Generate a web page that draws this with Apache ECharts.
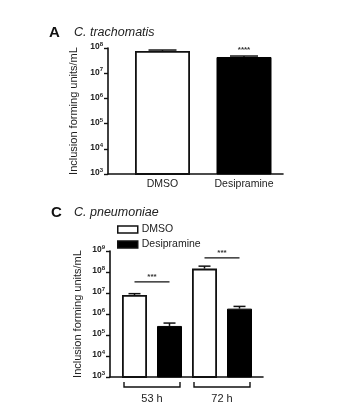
<!DOCTYPE html>
<html>
<head>
<meta charset="utf-8">
<script src="https://cdn.jsdelivr.net/npm/echarts@6/dist/echarts.min.js"></script>
<style>
  html, body { margin: 0; background: #fff; }
  #chart { width: 340px; height: 417px; }
</style>
</head>
<body>
<div id="chart"></div>
<script>
// panel A - C. trachomatis
const trachCategories = ['DMSO', 'Desipramine'];
const trachMeans = [7.6e7, 4.4e7];
const trachUpper = [8.3e7, 4.8e7];
const trachStars = ['', '****'];

// panel C - C. pneumoniae
const pneuCategories = ['53 h', '72 h'];
const pneuDmso = [8.0e6, 1.45e8];
const pneuDmsoUpper = [9.3e6, 1.9e8];
const pneuDesip = [2.7e5, 1.8e6];
const pneuDesipUpper = [3.7e5, 2.3e6];
const pneuSigLevel = [3.4e7, 4.7e8];
const pneuStars = ['***', '***'];

const FONT = '"Liberation Sans", Arial, sans-serif';
const BAR_A = 55;
const BAR_C = 25;
const GAP_C = 10;

const chart = echarts.init(document.getElementById('chart'));

function powLabel(value) {
  return '{b|10}{s|' + Math.round(Math.log10(value)) + '}';
}

// frame axis: draws the axis line, ticks and labels
function logAxis(gridIndex, max, split) {
  return {
    type: 'log',
    gridIndex: gridIndex,
    logBase: 10,
    min: 1e3,
    max: max,
    splitNumber: split,
    name: 'Inclusion forming units/mL',
    nameLocation: 'middle',
    nameGap: 27,
    nameTextStyle: { fontFamily: FONT, fontSize: 11, color: '#222' },
    axisLine: { show: true, lineStyle: { color: '#111', width: 1.6 } },
    axisTick: { show: true, length: 4, lineStyle: { color: '#111', width: 1.4 } },
    minorTick: { show: false },
    splitLine: { show: false },
    axisLabel: {
      margin: 5,
      formatter: powLabel,
      rich: {
        b: { fontFamily: FONT, fontSize: 8.5, color: '#222', fontWeight: 'bold', padding: [0, 0, 2, 0] },
        s: { fontFamily: FONT, fontSize: 6, color: '#222', fontWeight: 'bold', padding: [0, 0, 7, 0] }
      }
    }
  };
}

// hidden value axis for the grid that holds the bars, same range as the frame
function hiddenLogAxis(gridIndex, max) {
  return {
    type: 'log', gridIndex: gridIndex, logBase: 10, min: 1e3, max: max,
    show: false, splitLine: { show: false }
  };
}

// upper error bar with cap, drawn from mean to upper value
function errorSeries(xi, yi, means, uppers, dx, halfCap) {
  return {
    type: 'custom',
    xAxisIndex: xi,
    yAxisIndex: yi,
    silent: true,
    z: 5,
    data: means.map((m, i) => [i, m, uppers[i]]),
    encode: { x: 0, y: [1, 2] },
    renderItem: function (params, api) {
      const base = api.coord([api.value(0), api.value(1)]);
      const top = api.coord([api.value(0), api.value(2)]);
      const x = base[0] + dx;
      return {
        type: 'group',
        children: [
          { type: 'line', shape: { x1: x, y1: base[1], x2: x, y2: top[1] }, style: { stroke: '#111', lineWidth: 1.5 } },
          { type: 'line', shape: { x1: x - halfCap, y1: top[1], x2: x + halfCap, y2: top[1] }, style: { stroke: '#111', lineWidth: 1.5 } }
        ]
      };
    }
  };
}

const option = {
  animation: false,
  backgroundColor: '#fff',
  title: [
    { text: 'A', left: 44, top: 20, textStyle: { fontFamily: FONT, fontSize: 15, fontWeight: 'bold', color: '#111' } },
    { text: 'C. trachomatis', left: 69, top: 21, textStyle: { fontFamily: FONT, fontSize: 12.5, fontStyle: 'italic', fontWeight: 'normal', color: '#222' } },
    { text: 'C', left: 46, top: 200, textStyle: { fontFamily: FONT, fontSize: 15, fontWeight: 'bold', color: '#111' } },
    { text: 'C. pneumoniae', left: 69, top: 201, textStyle: { fontFamily: FONT, fontSize: 12.5, fontStyle: 'italic', fontWeight: 'normal', color: '#222' } }
  ],
  legend: {
    data: ['DMSO', 'Desipramine'],
    orient: 'vertical',
    left: 112,
    top: 219,
    icon: 'rect',
    itemWidth: 20,
    itemHeight: 7,
    itemGap: 4,
    selectedMode: false,
    itemStyle: { borderColor: '#111', borderWidth: 1.5 },
    textStyle: { fontFamily: FONT, fontSize: 10.5, color: '#222', padding: [0, 0, 0, -1] }
  },
  grid: [
    // frames (axis lines)
    { left: 108, top: 48, width: 175, height: 126 },
    { left: 110, top: 251, width: 153, height: 126 },
    // bar areas
    { left: 121.75, top: 48, width: 163, height: 126 },
    { left: 117, top: 251, width: 140, height: 126 }
  ],
  xAxis: [
    {
      type: 'category', gridIndex: 0, data: trachCategories,
      axisLine: { lineStyle: { color: '#111', width: 1.6 } },
      axisTick: { show: false }, axisLabel: { show: false }
    },
    {
      type: 'category', gridIndex: 1, data: pneuCategories,
      axisLine: { lineStyle: { color: '#111', width: 1.6 } },
      axisTick: { show: false }, axisLabel: { show: false }
    },
    {
      type: 'category', gridIndex: 2, data: trachCategories,
      axisLine: { show: false }, axisTick: { show: false },
      axisLabel: { margin: 5, fontFamily: FONT, fontSize: 10.5, color: '#222' }
    },
    {
      type: 'category', gridIndex: 3, data: pneuCategories,
      axisLine: { show: false }, axisTick: { show: false },
      axisLabel: { margin: 16, fontFamily: FONT, fontSize: 11, color: '#222' }
    }
  ],
  yAxis: [logAxis(0, 1e8, 5), logAxis(1, 1e9, 6), hiddenLogAxis(2, 1e8), hiddenLogAxis(3, 1e9)],
  series: [
    {
      name: 'trachomatis',
      type: 'bar',
      xAxisIndex: 2,
      yAxisIndex: 2,
      barWidth: BAR_A,
      data: trachMeans.map((v, i) => ({
        value: v,
        itemStyle: i === 0
          ? { color: '#fff', borderColor: '#111', borderWidth: 1.8 }
          : { color: '#000', borderColor: '#000', borderWidth: 1 }
      }))
    },
    errorSeries(2, 2, trachMeans, trachUpper, 0, 14),
    {
      type: 'custom',
      xAxisIndex: 2,
      yAxisIndex: 2,
      silent: true,
      data: trachUpper.map((u, i) => [i, u]),
      renderItem: function (params, api) {
        const p = api.coord([api.value(0), api.value(1)]);
        return {
          type: 'text',
          style: {
            x: p[0], y: p[1] - 2, text: trachStars[params.dataIndex],
            align: 'center', verticalAlign: 'bottom',
            font: 'bold 8px ' + FONT, fill: '#333'
          }
        };
      }
    },
    {
      name: 'DMSO',
      type: 'bar',
      xAxisIndex: 3,
      yAxisIndex: 3,
      barWidth: BAR_C,
      barGap: (GAP_C / BAR_C * 100) + '%',
      itemStyle: { color: '#fff', borderColor: '#111', borderWidth: 1.8 },
      data: pneuDmso
    },
    {
      name: 'Desipramine',
      type: 'bar',
      xAxisIndex: 3,
      yAxisIndex: 3,
      barWidth: BAR_C,
      itemStyle: { color: '#000', borderColor: '#000', borderWidth: 1 },
      data: pneuDesip
    },
    errorSeries(3, 3, pneuDmso, pneuDmsoUpper, -(BAR_C + GAP_C) / 2, 6),
    errorSeries(3, 3, pneuDesip, pneuDesipUpper, (BAR_C + GAP_C) / 2, 6),
    {
      // significance lines with stars
      type: 'custom',
      xAxisIndex: 3,
      yAxisIndex: 3,
      silent: true,
      data: pneuSigLevel.map((v, i) => [i, v]),
      renderItem: function (params, api) {
        const p = api.coord([api.value(0), api.value(1)]);
        const h = (BAR_C + GAP_C) / 2;
        return {
          type: 'group',
          children: [
            { type: 'line', shape: { x1: p[0] - h, y1: p[1], x2: p[0] + h, y2: p[1] }, style: { stroke: '#111', lineWidth: 1.3 } },
            {
              type: 'text',
              style: {
                x: p[0], y: p[1] - 1, text: pneuStars[params.dataIndex],
                align: 'center', verticalAlign: 'bottom',
                font: 'bold 8px ' + FONT, fill: '#333'
              }
            }
          ]
        };
      }
    },
    {
      // brackets under each time point
      type: 'custom',
      xAxisIndex: 3,
      yAxisIndex: 3,
      silent: true,
      clip: false,
      data: pneuCategories.map((c, i) => [i, 1e3]),
      renderItem: function (params, api) {
        const p = api.coord([api.value(0), api.value(1)]);
        const half = api.size([1, 0])[0] * 0.4;
        const y1 = p[1] + 5;
        const y2 = p[1] + 10;
        return {
          type: 'polyline',
          shape: { points: [[p[0] - half, y1], [p[0] - half, y2], [p[0] + half, y2], [p[0] + half, y1]] },
          style: { stroke: '#111', lineWidth: 1.4, fill: null }
        };
      }
    }
  ]
};

chart.setOption(option);
</script>
</body>
</html>
